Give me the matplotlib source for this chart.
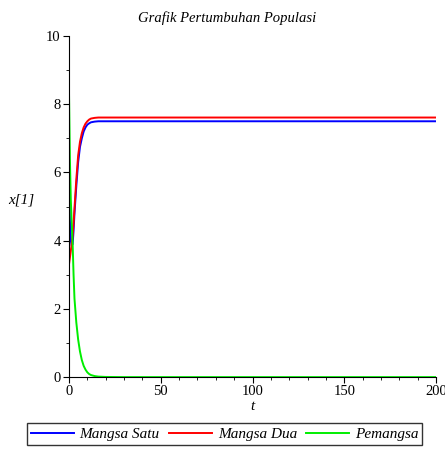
import matplotlib
matplotlib.use('Agg')
import matplotlib.pyplot as plt
from matplotlib.ticker import MultipleLocator

# values (time, population)
t = [0, 0.5, 1, 1.5, 2, 2.5, 3, 4, 5, 6, 7, 8, 9, 10, 11, 12, 14, 16, 18, 20, 30, 50, 100, 150, 200]
mangsa_satu = [5.7, 4.6, 4.0, 3.85, 3.9, 4.3, 4.8, 5.6, 6.3, 6.75, 7.0, 7.2, 7.32, 7.4, 7.44, 7.47, 7.49, 7.5, 7.5, 7.5, 7.5, 7.5, 7.5, 7.5, 7.5]
mangsa_dua = [3.3, 3.5, 3.7, 3.9, 4.15, 4.5, 4.95, 5.8, 6.5, 6.9, 7.15, 7.32, 7.43, 7.5, 7.55, 7.58, 7.6, 7.61, 7.61, 7.61, 7.61, 7.61, 7.61, 7.61, 7.61]
pemangsa = [8.4, 6.4, 5.2, 4.5, 3.9, 3.0, 2.3, 1.6, 1.1, 0.75, 0.5, 0.33, 0.22, 0.14, 0.09, 0.06, 0.03, 0.015, 0.01, 0.005, 0.0, 0.0, 0.0, 0.0, 0.0]
labels = ['Mangsa Satu', 'Mangsa Dua', 'Pemangsa']

plt.rcParams['font.family'] = ['Liberation Serif', 'DejaVu Serif']

fig = plt.figure(figsize=(4.45, 4.5), dpi=100)
ax = fig.add_axes([0.155, 0.162, 0.825, 0.758])

ax.plot(t, mangsa_satu, color='#0000ff', lw=1.4, label=labels[0])
ax.plot(t, mangsa_dua, color='#ff0000', lw=1.4, label=labels[1])
ax.plot(t, pemangsa, color='#00ee00', lw=1.4, label=labels[2])

ax.set_xlim(0, 200)
ax.set_ylim(0, 10)
ax.xaxis.set_major_locator(MultipleLocator(50))
ax.xaxis.set_minor_locator(MultipleLocator(10))
ax.yaxis.set_major_locator(MultipleLocator(2))
ax.yaxis.set_minor_locator(MultipleLocator(1))
ax.tick_params(which='major', direction='out', length=4, labelsize=10.5, pad=2)
ax.tick_params(which='minor', direction='out', length=2)

for s in ['top', 'right']:
    ax.spines[s].set_visible(False)

ax.set_xlabel('t', fontstyle='italic', fontsize=11, labelpad=1)
ax.set_ylabel('x[1]', fontstyle='italic', fontsize=11, rotation=0, labelpad=18)
ax.set_title('Grafik Pertumbuhan Populasi', fontstyle='italic', fontsize=10.5,
             x=0.43, pad=10)

leg = fig.legend(loc='lower center', bbox_to_anchor=(0.505, 0.005), ncol=3,
                 prop={'style': 'italic', 'size': 11}, fancybox=False,
                 edgecolor='black', handlelength=2.8, columnspacing=0.6,
                 handletextpad=0.4, borderpad=0.25, borderaxespad=0.2)
leg.get_frame().set_linewidth(1.0)

fig.savefig('out.png', dpi=100)
